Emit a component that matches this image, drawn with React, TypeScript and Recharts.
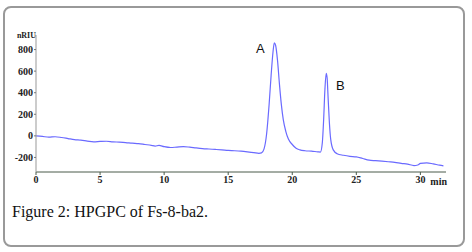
import React from 'react';
import { LineChart, Line, XAxis, YAxis, ReferenceDot } from 'recharts';

const times = [0,0.5,1,1.5,2,2.5,3,3.5,4,4.5,5,5.5,6,6.5,7,7.5,8,8.5,9,9.3,9.6,10,10.5,11,11.5,12,12.5,13,13.5,14,14.5,15,15.5,16,16.5,17,17.4,17.6,17.8,18,18.2,18.35,18.5,18.6,18.7,18.85,19,19.15,19.3,19.5,19.7,20,20.3,20.6,21,21.5,22,22.2,22.35,22.45,22.55,22.65,22.72,22.8,22.9,23,23.2,23.5,24,24.5,25,25.5,26,26.5,27,27.5,28,28.5,29,29.5,29.8,30,30.5,31,31.5,31.8];
const signal = [0,-5,-12,-8,-15,-25,-35,-40,-48,-55,-52,-50,-55,-58,-62,-68,-72,-80,-88,-95,-88,-100,-108,-104,-100,-105,-112,-118,-122,-126,-130,-135,-138,-142,-148,-155,-162,-158,-120,20,300,560,780,862,840,700,480,290,150,40,-30,-80,-115,-130,-138,-142,-148,-150,-60,150,430,580,540,350,120,-30,-130,-165,-180,-190,-195,-210,-225,-230,-235,-240,-245,-255,-262,-275,-270,-255,-250,-260,-272,-278];
const xTicks = [0,5,10,15,20,25,30];
const xMinorTicks = Array.from({ length: 33 }, (_, i) => i);
const yTicks = [-200,0,200,400,600,800];
const yMinorTicks = [-300,-250,-200,-150,-100,-50,0,50,100,150,200,250,300,350,400,450,500,550,600,650,700,750,800,850,900];
const peakLabels = [{ name: 'A', t: 17.5, v: 815 }, { name: 'B', t: 23.75, v: 472 }];

const data = times.map((t, i) => ({ t, v: signal[i] }));

const tickFont = { fontFamily: 'Liberation Serif', fontSize: 10, fontWeight: 700, fill: '#222' };

export default function App() {
  return (
    <div style={{ position: 'absolute', left: 0, top: 0, width: 472, height: 252, background: '#fff' }}>
      <div style={{ position: 'absolute', left: 3, top: 6, width: 458, height: 237, border: '2px solid #999', borderRadius: 8 }} />
      <div style={{ position: 'absolute', left: 0, top: 0 }}>
        <LineChart width={472} height={252} data={data} margin={{ top: 35, right: 26, bottom: 60, left: 0 }}>
          <XAxis xAxisId="minor" dataKey="t" type="number" domain={[0, 32]} ticks={xMinorTicks} tick={false} tickSize={2} axisLine={false} height={0} stroke="#555" />
          <XAxis dataKey="t" type="number" domain={[0, 32]} ticks={xTicks} tickSize={3} tickMargin={1} axisLine={{ stroke: '#4a5a4a' }} tickLine={{ stroke: '#4a5a4a' }} tick={tickFont} height={20}
            label={{ content: (p: any) => <text x={p.viewBox.x + p.viewBox.width + 1} y={p.viewBox.y + 13} textAnchor="end" style={tickFont as any}>min</text> }} />
          <YAxis yAxisId="minor" type="number" domain={[-335, 935]} ticks={yMinorTicks} tick={false} tickSize={1} axisLine={false} width={0} stroke="#999" />
          <YAxis type="number" domain={[-335, 935]} ticks={yTicks} tickSize={2} tickMargin={1} axisLine={{ stroke: '#999' }} tickLine={{ stroke: '#777' }} tick={tickFont} width={36} interval={0}
            label={{ content: (p: any) => <text x={p.viewBox.x + p.viewBox.width} y={p.viewBox.y + 3} textAnchor="end" style={{ ...tickFont, fontSize: 8 } as any}>nRIU</text> }} />
          <Line dataKey="v" type="monotone" stroke="#6a6aff" strokeWidth={1.2} dot={false} isAnimationActive={false} />
          {peakLabels.map((p) => (
            <ReferenceDot key={p.name} x={p.t} y={p.v} r={0} stroke="none" fill="none"
              label={{ value: p.name, position: 'center', style: { fontFamily: 'Liberation Sans', fontSize: 13, fill: '#111' } }} />
          ))}
        </LineChart>
      </div>
      <div style={{ position: 'absolute', left: 12, top: 203, fontFamily: 'Liberation Serif', fontSize: 16, color: '#111', whiteSpace: 'nowrap' }}>
        Figure 2: HPGPC of Fs-8-ba2.
      </div>
    </div>
  );
}
